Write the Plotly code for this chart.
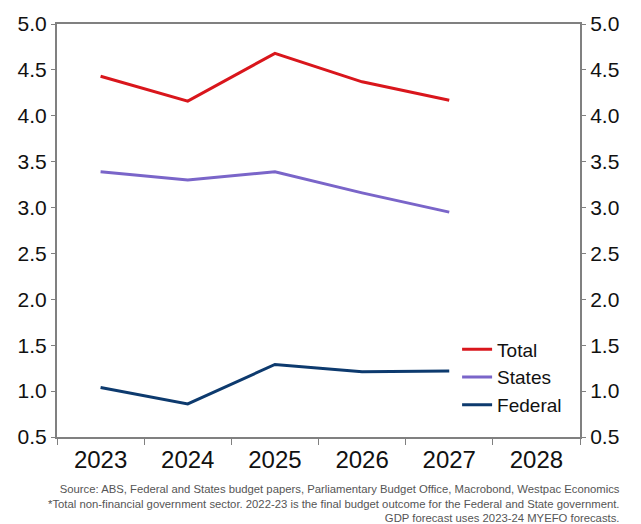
import plotly.graph_objects as go

years = ["2023", "2024", "2025", "2026", "2027", "2028"]
total = [4.43, 4.16, 4.68, 4.37, 4.17, None]
states = [3.39, 3.30, 3.39, 3.16, 2.95, None]
federal = [1.04, 0.86, 1.29, 1.21, 1.22, None]

yticks = [0.5, 1.0, 1.5, 2.0, 2.5, 3.0, 3.5, 4.0, 4.5, 5.0]
ytick_text = [f"{v:.1f}" for v in yticks]

FONT = "Liberation Sans, Arial, sans-serif"

fig = go.Figure()
fig.add_trace(go.Scatter(x=years, y=total, name="Total", mode="lines",
                         line=dict(color="#d9161c", width=3)))
fig.add_trace(go.Scatter(x=years, y=states, name="States", mode="lines",
                         line=dict(color="#7a65c9", width=3)))
fig.add_trace(go.Scatter(x=years, y=federal, name="Federal", mode="lines",
                         line=dict(color="#0d3a6e", width=3)))
# invisible trace for right axis
fig.add_trace(go.Scatter(x=years, y=[None]*6, yaxis="y2", showlegend=False,
                         hoverinfo="skip"))

yfont = dict(family=FONT, size=21, color="#111111")
xfont = dict(family=FONT, size=24, color="#111111")

pw = 641 - 57 - 61
ph = 524 - 17 - 87

fig.update_layout(
    width=641, height=524,
    margin=dict(l=57, r=61, t=17, b=87),
    paper_bgcolor="white", plot_bgcolor="white",
    showlegend=True,
    legend=dict(x=0.765, y=0.258, xanchor="left", yanchor="top",
                font=dict(family=FONT, size=19, color="#111111"),
                bgcolor="rgba(0,0,0,0)", tracegroupgap=0, itemwidth=30),
    xaxis=dict(type="category", categoryorder="array", categoryarray=years,
               range=[-0.5, 5.5], tickson="boundaries", ticks="outside", ticklen=6,
               tickcolor="#808080", showline=True, linecolor="#808080", linewidth=2,
               mirror=True, showgrid=False, tickfont=xfont, zeroline=False),
    yaxis=dict(range=[0.5, 5.0], tickvals=yticks, ticktext=ytick_text,
               ticks="outside", ticklen=4, tickcolor="#808080",
               showline=True, linecolor="#808080", linewidth=2,
               showgrid=False, zeroline=False, tickfont=yfont),
    yaxis2=dict(range=[0.5, 5.0], tickvals=yticks, ticktext=ytick_text,
                overlaying="y", side="right", ticks="outside", ticklen=4,
                tickcolor="#808080", showline=True, linecolor="#808080", linewidth=2,
                showgrid=False, zeroline=False, tickfont=yfont),
    annotations=[dict(
        x=(622 - 57) / pw, y=(437 - 482) / ph, xref="paper", yref="paper",
        text="Source: ABS, Federal and States budget papers, Parliamentary Budget Office, Macrobond, Westpac Economics<br>"
             "*Total non-financial government sector. 2022-23 is the final budget outcome for the Federal and State government.<br>"
             "GDP forecast uses 2023-24 MYEFO forecasts.",
        showarrow=False, align="right", xanchor="right", yanchor="top",
        font=dict(family=FONT, size=11.3, color="#555555"))],
)

fig.write_html("out.html")
